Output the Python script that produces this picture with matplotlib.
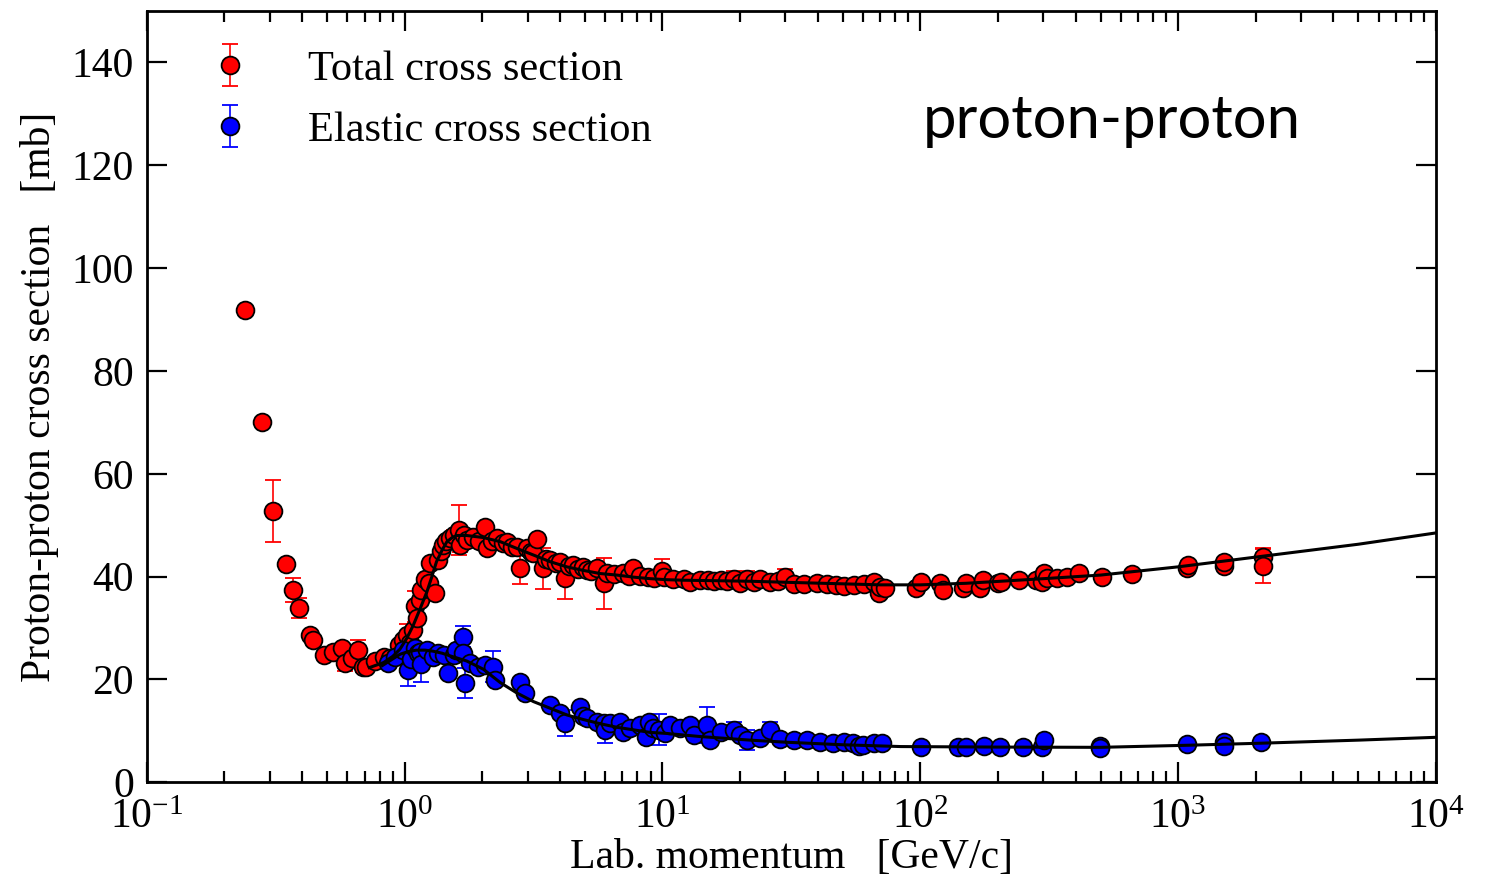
import numpy as np
import matplotlib
matplotlib.use("Agg")
import matplotlib.pyplot as plt
from matplotlib.ticker import LogLocator, NullLocator, FixedLocator

plt.rcParams['font.family'] = ['Liberation Serif', 'DejaVu Serif']
plt.rcParams['mathtext.fontset'] = 'custom'
plt.rcParams['mathtext.rm'] = 'Liberation Serif'
plt.rcParams['mathtext.it'] = 'Liberation Serif:italic'
plt.rcParams['mathtext.default'] = 'regular'

# ---------------- data ----------------
total = [
    (0.240, 91.9, 0), (0.280, 70.0, 0), (0.309, 52.8, 6), (0.348, 42.5, 0),
    (0.370, 37.4, 2.3), (0.389, 33.9, 2), (0.43, 28.7, 0), (0.44, 27.7, 0),
    (0.486, 24.8, 0), (0.528, 25.4, 0), (0.57, 26.1, 0), (0.587, 23.2, 1.5),
    (0.623, 24.1, 0), (0.66, 25.7, 2), (0.69, 22.5, 1), (0.71, 22.5, 1),
    (0.77, 23.5, 0), (0.83, 24.4, 0), (0.88, 24.1, 0), (0.95, 26.7, 0),
    (0.99, 27.7, 0), (1.02, 28.7, 2), (1.05, 27.0, 0), (1.08, 29.6, 0),
    (1.10, 34.2, 3), (1.12, 32.0, 0), (1.15, 35.5, 0), (1.16, 37.4, 0),
    (1.20, 39.5, 0), (1.24, 38.7, 0), (1.25, 42.6, 0), (1.31, 36.8, 0),
    (1.35, 43.2, 0), (1.38, 45.0, 0), (1.41, 46.2, 0), (1.45, 47.0, 0),
    (1.50, 47.5, 0), (1.55, 48.0, 1), (1.62, 49.1, 4.8), (1.64, 46.2, 1.5),
    (1.70, 48.0, 0), (1.74, 47.1, 0), (1.85, 47.8, 0), (1.95, 47.0, 0),
    (2.05, 49.6, 0), (2.08, 45.5, 0), (2.18, 47.0, 0), (2.28, 47.5, 0),
    (2.40, 46.5, 0), (2.49, 46.8, 0), (2.60, 45.8, 0), (2.72, 45.8, 0),
    (2.80, 41.6, 3), (2.98, 45.5, 0), (3.10, 44.8, 0), (3.16, 44.5, 0),
    (3.26, 47.3, 0), (3.45, 41.6, 4), (3.55, 43.5, 0), (3.67, 43.2, 0),
    (3.85, 42.6, 0), (4.0, 42.9, 0), (4.2, 39.7, 4), (4.35, 42.0, 0),
    (4.5, 42.3, 0), (4.7, 41.5, 0), (4.94, 41.9, 0), (5.09, 41.3, 0),
    (5.3, 41.0, 0), (5.57, 41.6, 0), (5.92, 38.7, 5), (6.1, 40.7, 0),
    (6.5, 40.5, 0), (7.06, 40.7, 0), (7.4, 40.2, 0), (7.72, 41.6, 0),
    (8.2, 40.1, 0), (8.8, 40.0, 0), (9.3, 39.8, 0), (9.95, 41.0, 2.5),
    (10.1, 40.0, 0), (11.0, 39.6, 0), (12.1, 39.5, 0), (12.8, 39.0, 0),
    (14.0, 39.4, 0), (15.0, 39.3, 0), (15.8, 39.2, 0), (16.8, 39.4, 0),
    (17.8, 39.2, 0), (18.9, 39.5, 1.5), (20.0, 38.7, 0), (21.3, 39.5, 1.5),
    (22.6, 39.0, 0), (24.0, 39.5, 0), (26.2, 39.0, 0), (28.0, 39.1, 0),
    (30.0, 40.0, 1.5), (32.3, 38.6, 0), (35.3, 38.6, 0), (39.8, 38.8, 0),
    (43.5, 38.6, 0), (47.0, 38.4, 0), (50.5, 38.2, 0), (55.2, 38.4, 0),
    (60.4, 38.6, 0), (66.0, 39.0, 0), (69.0, 36.8, 0), (70.0, 38.0, 0),
    (73.3, 37.7, 0), (96.6, 37.7, 0), (101, 39.0, 0), (119, 38.7, 0),
    (122, 37.4, 0), (147, 37.7, 0), (150, 38.7, 0), (171, 37.7, 0),
    (175, 39.4, 0), (200, 38.7, 0), (206, 39.0, 0), (242, 39.4, 0),
    (282, 39.4, 0), (297, 39.0, 0), (302, 40.7, 0), (311, 39.7, 0),
    (340, 39.7, 0), (371, 39.9, 0), (411, 40.7, 0), (505, 40.0, 0),
    (663, 40.5, 0), (1080, 41.6, 0), (1089, 42.3, 0), (1509, 42.1, 0),
    (1509, 42.9, 0), (2125, 43.9, 1.5), (2125, 42.1, 3.4),
]
tot_p = [t[0] for t in total]
tot_sigma = [t[1] for t in total]
tot_err = [t[2] for t in total]

elastic = [
    (0.86, 23.2, 0), (0.92, 24.3, 0), (0.99, 25.7, 0), (1.03, 21.8, 3),
    (1.06, 24.0, 0), (1.10, 26.1, 0), (1.13, 25.2, 0), (1.15, 25.4, 0),
    (1.16, 23.0, 3.5), (1.22, 25.7, 0), (1.29, 24.4, 0), (1.35, 25.1, 0),
    (1.42, 24.8, 0), (1.48, 21.2, 0), (1.55, 24.8, 0), (1.59, 25.7, 0),
    (1.69, 28.3, 2), (1.69, 25.1, 0), (1.71, 19.3, 3), (1.79, 23.2, 0),
    (1.93, 22.5, 0), (2.05, 22.8, 0), (2.21, 22.5, 3), (2.24, 19.9, 0),
    (2.80, 19.6, 0), (2.93, 17.3, 0), (3.67, 15.0, 0), (4.0, 13.4, 0),
    (4.2, 11.5, 2.5), (4.8, 14.7, 0), (4.94, 12.8, 0), (5.09, 12.5, 0),
    (5.57, 11.8, 0), (5.92, 11.5, 0), (6.0, 10.2, 2.5), (6.28, 11.5, 0),
    (6.86, 11.8, 0), (7.06, 9.8, 0), (7.5, 10.6, 0), (8.2, 11.1, 0),
    (8.6, 8.9, 0), (8.85, 11.8, 0), (9.2, 10.5, 0), (9.7, 10.2, 3),
    (10.2, 9.6, 0), (10.7, 11.1, 0), (11.7, 10.5, 0), (12.8, 11.1, 0),
    (13.2, 9.2, 0), (14.9, 11.1, 3.5), (15.3, 8.2, 0), (16.8, 9.8, 0),
    (18.9, 10.2, 1.5), (20.0, 9.2, 0), (21.3, 8.2, 2), (24.0, 8.6, 0),
    (26.2, 10.2, 1.5), (28.6, 8.4, 0), (32.3, 8.2, 0), (36.3, 8.2, 0),
    (40.7, 7.9, 0), (46.0, 7.6, 0), (50.5, 7.9, 0), (55.0, 7.6, 0),
    (58.0, 7.0, 0), (60.0, 7.3, 0), (66.0, 7.6, 0), (71.0, 7.6, 0),
    (101, 6.9, 0), (140, 6.9, 0), (150, 6.9, 0), (177, 7.06, 0),
    (204, 6.9, 0), (251, 6.8, 0), (297, 6.9, 0), (302, 8.2, 0),
    (497, 7.06, 0), (497, 6.6, 0), (1083, 7.45, 0), (1500, 7.9, 0),
    (1500, 7.06, 0), (2090, 7.9, 0),
]
el_p = [t[0] for t in elastic]
el_sigma = [t[1] for t in elastic]
el_err = [t[2] for t in elastic]

# fitted curves
fit_tot_p = [0.73, 0.83, 0.90, 0.96, 1.02, 1.08, 1.15, 1.22, 1.28, 1.33, 1.40,
             1.46, 1.53, 1.59, 1.74, 2.02, 2.35, 2.72, 3.16, 3.67, 4.26, 4.94,
             5.73, 6.66, 7.73, 8.97, 10.4, 12.1, 16.3, 21.9, 30, 50, 70, 100,
             150, 205, 300, 500, 1000, 2000, 5000, 10000]
fit_tot_s = [22.3, 23.3, 24.5, 25.9, 28.0, 30.5, 33.8, 37.0, 40.2, 42.9, 45.2,
             46.8, 47.6, 48.0, 48.0, 47.6, 46.8, 45.5, 44.2, 42.9, 41.9, 41.2,
             40.6, 40.3, 39.9, 39.6, 39.4, 39.3, 39.2, 39.1, 38.9, 38.6, 38.4, 38.4,
             38.7, 39.1, 39.6, 40.3, 41.9, 43.8, 46.3, 48.5]
fit_el_p = [0.82, 0.90, 0.96, 1.03, 1.11, 1.20, 1.29, 1.40, 1.50, 1.74, 2.02,
            2.35, 2.72, 3.16, 3.67, 4.26, 4.94, 5.73, 6.66, 7.73, 8.97, 10.4,
            14, 21.9, 30, 50, 84, 200, 500, 1080, 2086, 5000, 10000]
fit_el_s = [22.7, 24.0, 24.9, 25.4, 25.7, 25.7, 25.5, 25.1, 24.6, 23.6, 22.0,
            19.4, 17.4, 15.7, 14.4, 13.1, 12.2, 11.4, 10.7, 10.2, 9.7, 9.5,
            8.9, 8.2, 7.8, 7.3, 6.95, 6.85, 6.8, 7.2, 7.6, 8.2, 8.75]

yticks = [0, 20, 40, 60, 80, 100, 120, 140]

# ---------------- figure ----------------
fig = plt.figure(figsize=(15, 8.82), dpi=100)
ax = fig.add_axes([146.7 / 1500, (882 - 782.3) / 882,
                   (1436 - 146.7) / 1500, (782.3 - 11) / 882])

mk = dict(fmt='o', ms=12.8, mec='black', mew=1.3, elinewidth=1.2,
          capsize=6, capthick=1.5)
h_tot = ax.errorbar(tot_p, tot_sigma, yerr=tot_err, color='#ff0000',
                    mfc='#ff0000', ecolor='#ff0000', zorder=3, **mk)
h_el = ax.errorbar(el_p, el_sigma, yerr=el_err, color='#0000ff',
                   mfc='#0000ff', ecolor='#0000ff', zorder=4, **mk)
ax.plot(fit_tot_p, fit_tot_s, color='black', lw=2.2, zorder=5)
ax.plot(fit_el_p, fit_el_s, color='black', lw=2.2, zorder=5)

ax.set_xscale('log')
ax.set_xlim(0.1, 1e4)
ax.set_ylim(0, 150)
ax.yaxis.set_major_locator(FixedLocator(yticks))
ax.yaxis.set_minor_locator(NullLocator())
ax.xaxis.set_major_locator(LogLocator(base=10, numticks=10))
ax.xaxis.set_minor_locator(LogLocator(base=10, subs=np.arange(2, 10), numticks=20))

for s in ax.spines.values():
    s.set_linewidth(2.0)
ax.tick_params(which='both', direction='in', top=True, right=True,
               labelsize=30, width=1.6)
ax.tick_params(which='major', length=14.5)
ax.tick_params(which='minor', length=8)
ax.tick_params(axis='y', pad=9)
ax.tick_params(axis='x', pad=12)

ax.set_xlabel('Lab. momentum   [GeV/c]', fontsize=30, labelpad=1)
ax.set_ylabel('Proton-proton cross section   [mb]', fontsize=30, labelpad=9)

leg = ax.legend([h_tot, h_el], ['Total cross section', 'Elastic cross section'],
                loc='upper left', bbox_to_anchor=(0.025, 0.982), frameon=False,
                fontsize=30.5, handlelength=1.2, handletextpad=1.25,
                labelspacing=0.52, numpoints=1, borderaxespad=0.2)

ax.text(0.602, 0.858, 'proton-proton', transform=ax.transAxes,
        fontsize=43, family=['Lato', 'DejaVu Sans'], ha='left', va='center')

fig.savefig('out.png', dpi=100)
